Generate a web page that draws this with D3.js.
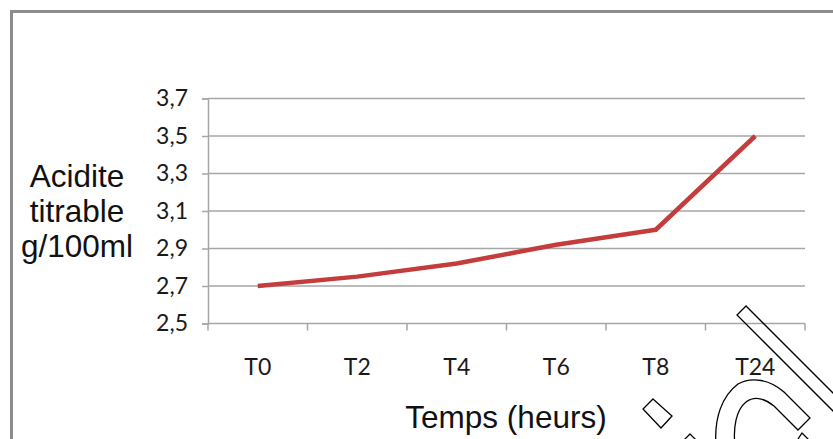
<!DOCTYPE html>
<html>
<head>
<meta charset="utf-8">
<script src="https://cdn.jsdelivr.net/npm/d3@7"></script>
<style>
  html, body { margin: 0; padding: 0; background: #fff; }
  svg { display: block; }
</style>
</head>
<body>
<svg id="chart" width="833" height="439"></svg>
<script>
// ---- data ----
const categories = ["T0", "T2", "T4", "T6", "T8", "T24"];
const acidity = [2.70, 2.75, 2.82, 2.92, 3.00, 3.50];
const yTicks = [2.5, 2.7, 2.9, 3.1, 3.3, 3.5, 3.7];
const yTitleLines = ["Acidite", "titrable", "g/100ml"];
const xTitle = "Temps (heurs)";

const svg = d3.select("#chart");
const W = 833, H = 439;
const plot = { left: 208, right: 805, top: 98.5, bottom: 323.5 };

svg.append("rect").attr("width", W).attr("height", H).attr("fill", "#fff");

// outer frame (only left & top visible)
svg.append("rect")
  .attr("x", 11.5).attr("y", 11.5)
  .attr("width", W + 20).attr("height", H + 20)
  .attr("fill", "none").attr("stroke", "#8c8c8c").attr("stroke-width", 3);

const x = d3.scaleBand().domain(categories).range([plot.left, plot.right]).padding(0);
const y = d3.scaleLinear().domain([2.5, 3.7]).range([plot.bottom, plot.top]);

const fmt = d => d3.format(".1f")(d).replace(".", ",");
const tickFont = "Lato, 'Liberation Sans', Arial, sans-serif";
const titleFont = "'Liberation Sans', Arial, sans-serif";

// gridlines
svg.append("g").selectAll("line")
  .data(yTicks.filter(t => t > 2.5))
  .join("line")
  .attr("x1", plot.left).attr("x2", plot.right)
  .attr("y1", d => y(d)).attr("y2", d => y(d))
  .attr("stroke", "#a6a6a6").attr("stroke-width", 1.5);

// y axis
const yAxis = svg.append("g")
  .attr("transform", `translate(${plot.left},0)`)
  .call(d3.axisLeft(y).tickValues(yTicks).tickFormat(fmt).tickSize(6).tickPadding(14));
yAxis.select(".domain").attr("stroke", "#a6a6a6").attr("stroke-width", 1.5);
yAxis.selectAll(".tick line").attr("stroke", "#a6a6a6").attr("stroke-width", 1.5);
yAxis.selectAll(".tick text")
  .attr("font-family", tickFont).attr("font-size", 23).attr("fill", "#1a1a1a");

// x axis
const xAxis = svg.append("g")
  .attr("transform", `translate(0,${plot.bottom})`)
  .call(d3.axisBottom(x).tickSize(0).tickPadding(35));
xAxis.select(".domain").remove();
xAxis.selectAll(".tick text")
  .attr("font-family", tickFont).attr("font-size", 23).attr("fill", "#1a1a1a");
svg.append("line")
  .attr("x1", plot.left).attr("x2", plot.right)
  .attr("y1", plot.bottom).attr("y2", plot.bottom)
  .attr("stroke", "#a6a6a6").attr("stroke-width", 1.5);
const bounds = categories.map(c => x(c)).concat([x(categories[categories.length - 1]) + x.bandwidth()]);
svg.append("g").selectAll("line")
  .data(bounds)
  .join("line")
  .attr("x1", d => d).attr("x2", d => d)
  .attr("y1", plot.bottom).attr("y2", plot.bottom + 7)
  .attr("stroke", "#a6a6a6").attr("stroke-width", 1.5);

// line
const line = d3.line()
  .x((d, i) => x(categories[i]) + x.bandwidth() / 2)
  .y(d => y(d));
svg.append("path")
  .datum(acidity)
  .attr("d", line)
  .attr("fill", "none")
  .attr("stroke", "#c43c3c")
  .attr("stroke-width", 4.5)
  .attr("stroke-linejoin", "round")
  .attr("stroke-linecap", "butt");

// y title
svg.append("text")
  .attr("font-family", titleFont).attr("font-size", 31.5).attr("fill", "#111")
  .attr("text-anchor", "middle")
  .selectAll("tspan")
  .data(yTitleLines)
  .join("tspan")
  .attr("x", 77)
  .attr("y", (d, i) => 187 + i * 35)
  .text(d => d);

// x title
svg.append("text")
  .attr("x", 506).attr("y", 428)
  .attr("text-anchor", "middle")
  .attr("font-family", titleFont).attr("font-size", 31.5).attr("fill", "#111")
  .text(xTitle);

// decorative outlined stamp shapes (bottom-right, not data)
const deco = svg.append("g").attr("fill", "none").attr("stroke", "#000").attr("stroke-width", 1.3);
deco.append("path").attr("d", "M746,306 L737,315 L870,448 L879,439 Z");
deco.append("path").attr("d", "M653,399 L672,416 L661,428 L643,409 Z");
deco.append("path").attr("d", "M690,434 L700,444 L690,454 L680,444 Z");
deco.append("path").attr("d", "M716,445 C714,418 722,396 738,384 C752,376 770,380 784,392 L810,418 L798,430 L774,406 C764,398 754,396 746,402 C736,410 733,428 735,445");
deco.append("path").attr("d", "M794,445 L802,433 L814,445");
</script>
</body>
</html>
